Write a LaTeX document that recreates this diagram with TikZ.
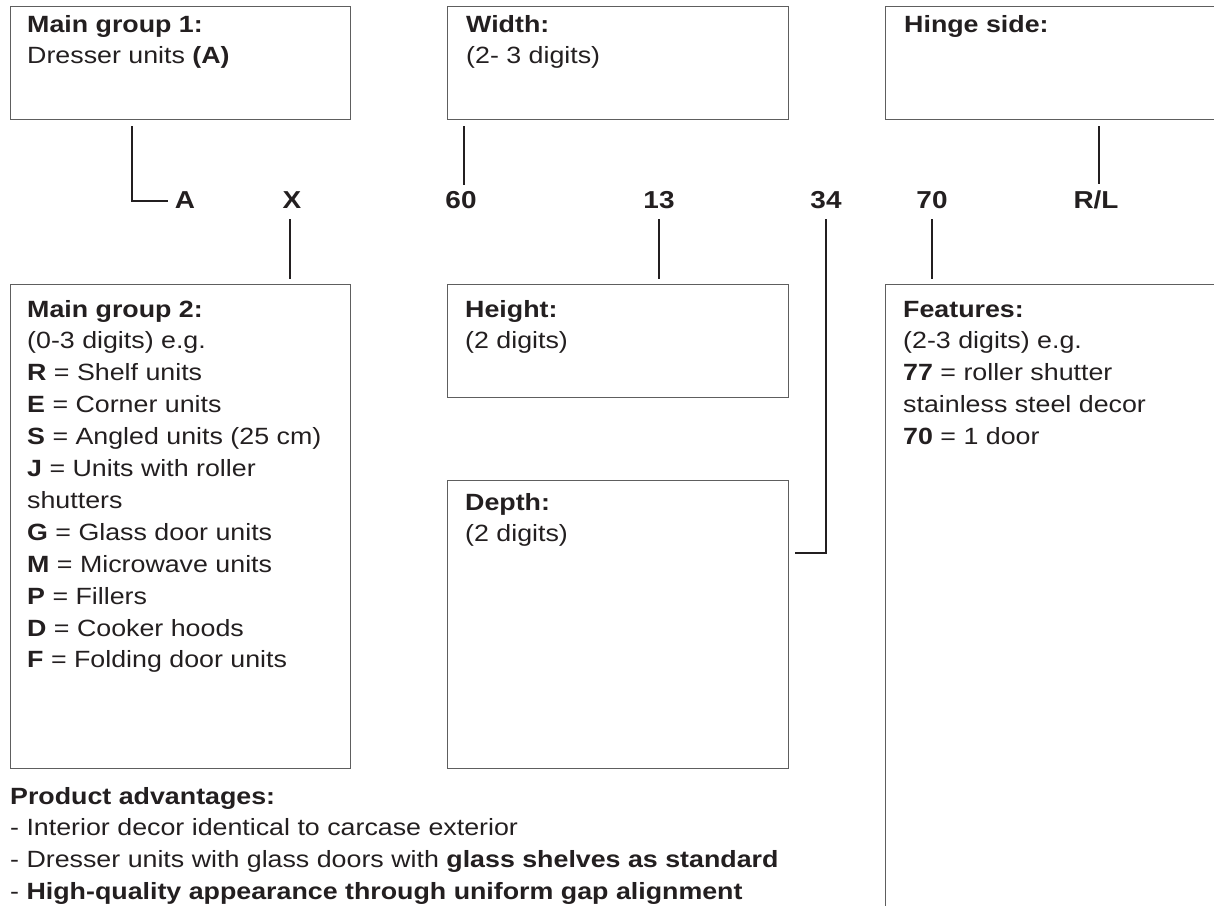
\documentclass[tikz,border=0pt]{standalone}
\usepackage{fontspec}
\setmainfont{Liberation Sans}[FakeStretch=1.14]
\usetikzlibrary{calc}
\definecolor{ink}{HTML}{231F20}
\definecolor{boxgray}{HTML}{5E5E5E}
\tikzset{
  box/.style={draw=boxgray, line width=1.3pt, rectangle, inner sep=0pt, anchor=north west},
  conn/.style={draw=ink, line width=2.5pt},
  txt/.style={anchor=base west, inner sep=0pt, text=ink, font=\fontsize{23.5}{31.9}\selectfont},
  lbl/.style={anchor=base, inner sep=0pt, text=ink, font=\bfseries\fontsize{24.5}{24.5}\selectfont},
}
\newcommand{\boxtext}[2][330pt]{\parbox[t]{#1}{\raggedright #2}}
\begin{document}
\begin{tikzpicture}[x=1pt,y=-1pt]
\useasboundingbox (0,0) rectangle (1214,905);
\clip (0,0) rectangle (1214,905);
% boxes
\node[box, minimum width=340pt, minimum height=113pt] (b1) at (10,6) {};
\node[box, minimum width=341pt, minimum height=113pt] (bw) at (447,6) {};
\node[box, minimum width=400pt, minimum height=113pt] (bh) at (885,6) {};
\node[box, minimum width=340pt, minimum height=484pt] (mg2) at (10,284) {};
\node[box, minimum width=341pt, minimum height=113pt] (bht) at (447,284) {};
\node[box, minimum width=341pt, minimum height=288pt] (bd) at (447,480) {};
\node[box, minimum width=400pt, minimum height=700pt] (bf) at (885,284) {};
% texts
\node[txt] (t1) at (27,32) {\boxtext{\textbf{Main group 1:}\\Dresser units \textbf{(A)}}};
\node[txt] (tw) at (466,32) {\boxtext{\textbf{Width:}\\(2- 3 digits)}};
\node[txt] (th) at (904,32) {\boxtext{\textbf{Hinge side:}}};
\node[txt] (t2) at (27,317) {\boxtext{\textbf{Main group 2:}\\(0-3 digits) e.g.\\\textbf{R} = Shelf units\\\textbf{E} = Corner units\\\textbf{S} = Angled units (25 cm)\\\textbf{J} = Units with roller\\shutters\\\textbf{G} = Glass door units\\\textbf{M} = Microwave units\\\textbf{P} = Fillers\\\textbf{D} = Cooker hoods\\\textbf{F} = Folding door units}};
\node[txt] (tht) at (465,317) {\boxtext{\textbf{Height:}\\(2 digits)}};
\node[txt] (td) at (465,510) {\boxtext{\textbf{Depth:}\\(2 digits)}};
\node[txt] (tf) at (903,317) {\boxtext{\textbf{Features:}\\(2-3 digits) e.g.\\\textbf{77} = roller shutter\\stainless steel decor\\\textbf{70} = 1 door}};
\node[txt] (tp) at (10,804) {\boxtext[800pt]{\textbf{Product advantages:}\\- Interior decor identical to carcase exterior\\- Dresser units with glass doors with \textbf{glass shelves as standard}\\- \textbf{High-quality appearance through uniform gap alignment}}};
% code labels
\node[lbl] (lA) at (185,208) {A};
\node[lbl] (lX) at (292,208) {X};
\node[lbl] (l60) at (461,208) {60};
\node[lbl] (l13) at (659,208) {13};
\node[lbl] (l34) at (826,208) {34};
\node[lbl] (l70) at (932,208) {70};
\node[lbl] (lRL) at (1096,208) {R/L};
% connectors
\draw[conn] ($(132,0 |- b1.south)+(0,6)$) |- ($(lA.base west)+(-7,-7)$);
\draw[conn] ($(l60.north |- bw.south)+(3,6)$) -- ($(l60.north)+(3,-6)$);
\draw[conn] ($(lRL.north |- bh.south)+(3,6)$) -- ($(lRL.north)+(3,-6)$);
\draw[conn] ($(lX.base)+(-2,11)$) -- ($(lX.base |- mg2.north)+(-2,-5)$);
\draw[conn] ($(l13.base)+(0,11)$) -- ($(l13.base |- bht.north)+(0,-5)$);
\draw[conn] ($(l70.base)+(0,11)$) -- ($(l70.base |- bf.north)+(0,-5)$);
\draw[conn] ($(l34.base)+(0,11)$) -- ($(l34.base |- bd.north east)+(0,73)$) -- ($(bd.north east)+(6,73)$);
\end{tikzpicture}
\end{document}
